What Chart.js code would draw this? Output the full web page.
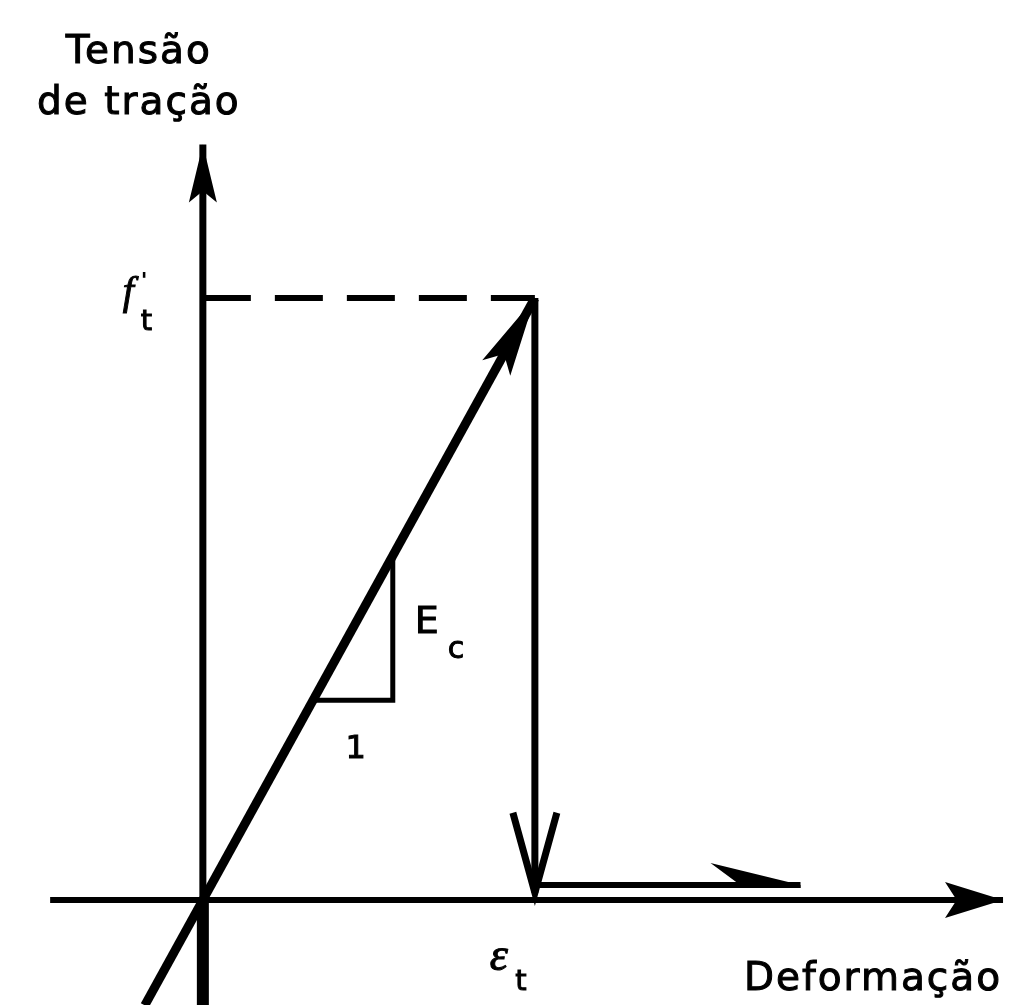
<!DOCTYPE html>
<html>
<head>
<meta charset="utf-8">
<script src="https://cdn.jsdelivr.net/npm/chart.js@4/dist/chart.umd.min.js"></script>
<style>
  html, body { margin: 0; padding: 0; background: #fff; }
  #wrap { width: 1010px; height: 1005px; }
</style>
</head>
<body>
<div id="wrap"><canvas id="diagram" width="1010" height="1005"></canvas></div>
<script>
// Diagrama tensão-deformação do concreto à tração (unidades normalizadas: pico em ε_t = 1, f't = 1)
const xRange = [-0.611, 2.431];
const yRange = [-0.1744, 1.495];

const strainAxisX = [-0.46, 2.41];
const strainAxisY = [0, 0];
const stressAxisX = [0, 0];
const stressAxisY = [-0.175, 1.255];
const stressStubX = [0, 0];
const stressStubY = [-0.175, 0];

const elasticX = [-0.175, 1.0];
const elasticY = [-0.175, 1.0];
const dropX = [1.0, 1.0];
const dropY = [1.0, 0.012];
const crackedX = [1.0, 1.8];
const crackedY = [0.025, 0.025];
const peakX = [0, 1.0];
const peakY = [1.0, 1.0];
const slopeX = [0.332, 0.572, 0.572];
const slopeY = [0.332, 0.332, 0.572];

const FONT = "'DejaVu Sans', sans-serif";

function pts(xs, ys) {
  return xs.map((x, i) => ({ x: x, y: ys[i] }));
}

function line(xs, ys, width, extra) {
  return Object.assign({
    data: pts(xs, ys),
    showLine: true,
    borderColor: "#000",
    borderWidth: width,
    pointRadius: 0,
    fill: false,
    clip: false,
    borderCapStyle: "butt",
  }, extra || {});
}

// pontas de seta no fim de cada série
const arrowPlugin = {
  id: "arrows",
  afterDatasetsDraw(chart) {
    const ctx = chart.ctx;
    chart.data.datasets.forEach((ds, i) => {
      if (!ds.arrow) return;
      const pts = chart.getDatasetMeta(i).data;
      const a = pts[pts.length - 2];
      const b = pts[pts.length - 1];
      const ang = Math.atan2(b.y - a.y, b.x - a.x);
      const { len, half, kind } = ds.arrow;
      ctx.save();
      ctx.translate(b.x, b.y);
      ctx.rotate(ang);
      ctx.fillStyle = "#000";
      ctx.strokeStyle = "#000";
      if (kind === "filled") {
        ctx.beginPath();
        ctx.moveTo(0, 0);
        ctx.lineTo(-len, -half);
        ctx.lineTo(-len * 0.8, 0);
        ctx.lineTo(-len, half);
        ctx.closePath();
        ctx.fill();
      } else if (kind === "open") {
        ctx.lineWidth = 7;
        ctx.beginPath();
        ctx.moveTo(-len, -half);
        ctx.lineTo(0, 0);
        ctx.lineTo(-len, half);
        ctx.stroke();
      } else if (kind === "half") {
        ctx.beginPath();
        ctx.moveTo(0, 0);
        ctx.lineTo(-len, -half);
        ctx.lineTo(-len * 0.7, -2);
        ctx.lineTo(-len * 0.7, 3);
        ctx.lineTo(0, 3);
        ctx.closePath();
        ctx.fill();
      }
      ctx.restore();
    });
  },
};

// texto com traço leve para engrossar as letras
function heavyText(ctx, txt, x, y) {
  ctx.fillText(txt, x, y);
  ctx.strokeText(txt, x, y);
}

// rótulos dos eixos e das grandezas
const labelPlugin = {
  id: "labels",
  afterDraw(chart) {
    const ctx = chart.ctx;
    const sx = chart.scales.x;
    const sy = chart.scales.y;
    const px = (v) => sx.getPixelForValue(v);
    const py = (v) => sy.getPixelForValue(v);
    ctx.save();
    ctx.fillStyle = "#000";
    ctx.strokeStyle = "#000";
    ctx.lineWidth = 1;
    ctx.textBaseline = "alphabetic";

    ctx.font = "39px " + FONT;
    ctx.letterSpacing = "2px";
    ctx.textAlign = "center";
    heavyText(ctx, "Tensão", px(0) - 64, 63);
    heavyText(ctx, "de tração", px(0) - 64, 114);
    ctx.textAlign = "right";
    heavyText(ctx, "Deformação", 1002, 990);
    ctx.letterSpacing = "0px";
    ctx.textAlign = "left";

    // f't
    ctx.font = "italic 40px 'Liberation Serif', serif";
    heavyText(ctx, "f", px(0) - 80, py(1.0) + 6);
    ctx.font = "bold 22px " + FONT;
    ctx.fillText("'", px(0) - 62, py(1.0) - 10);
    ctx.font = "29px " + FONT;
    heavyText(ctx, "t", px(0) - 62, py(1.0) + 32);

    // E_c
    ctx.font = "38px " + FONT;
    heavyText(ctx, "E", px(0.572) + 22, py(0.45) + 4);
    ctx.font = "30px " + FONT;
    heavyText(ctx, "c", px(0.572) + 55, py(0.45) + 29);

    // 1
    ctx.font = "32px " + FONT;
    ctx.textAlign = "center";
    heavyText(ctx, "1", px(0.46), py(0.332) + 58);

    // ε_t
    ctx.font = "italic 46px 'Liberation Serif', serif";
    heavyText(ctx, "ε", px(1.0) - 36, py(0) + 70);
    ctx.font = "29px " + FONT;
    heavyText(ctx, "t", px(1.0) - 14, py(0) + 90);
    ctx.restore();
  },
};

new Chart(document.getElementById("diagram"), {
  type: "scatter",
  data: {
    datasets: [
      line(strainAxisX, strainAxisY, 6, { arrow: { kind: "filled", len: 58, half: 18 } }),
      line(stressAxisX, stressAxisY, 7, { arrow: { kind: "filled", len: 58, half: 14 } }),
      line(stressStubX, stressStubY, 12),
      line(peakX, peakY, 6, { borderDash: [48, 24] }),
      line(elasticX, elasticY, 9, { arrow: { kind: "filled", len: 80, half: 16 } }),
      line(dropX, dropY, 7, { arrow: { kind: "open", len: 80, half: 22 } }),
      line(crackedX, crackedY, 6, { arrow: { kind: "half", len: 90, half: 22 } }),
      line(slopeX, slopeY, 5, { borderJoinStyle: "miter" }),
    ],
  },
  options: {
    responsive: false,
    animation: false,
    layout: { padding: 0 },
    plugins: {
      legend: { display: false },
      tooltip: { enabled: false },
      title: { display: false },
    },
    scales: {
      x: { type: "linear", display: false, min: xRange[0], max: xRange[1] },
      y: { type: "linear", display: false, min: yRange[0], max: yRange[1] },
    },
  },
  plugins: [arrowPlugin, labelPlugin],
});
</script>
</body>
</html>
